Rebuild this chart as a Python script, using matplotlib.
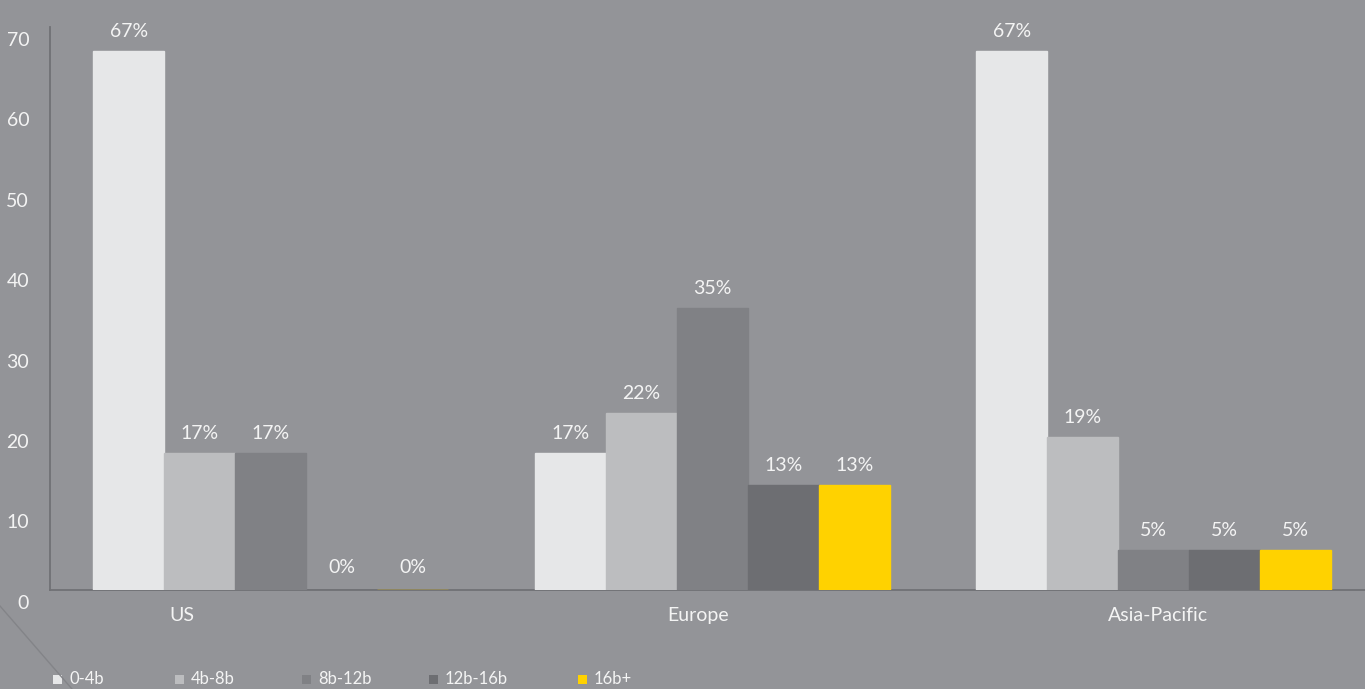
import matplotlib.pyplot as plt
import matplotlib.transforms as mtransforms
from matplotlib.patches import Rectangle
import numpy as np

plt.rcParams['font.family'] = ['Lato', 'DejaVu Sans']

regions = ['US', 'Europe', 'Asia-Pacific']
sizes = ['0-4b', '4b-8b', '8b-12b', '12b-16b', '16b+']
shares = {
    '0-4b': [67, 17, 67],
    '4b-8b': [17, 22, 19],
    '8b-12b': [17, 35, 5],
    '12b-16b': [0, 13, 5],
    '16b+': [0, 13, 5],
}
yticks = [0, 10, 20, 30, 40, 50, 60, 70]

colors = ['#e6e7e8', '#bcbdbf', '#808185', '#6d6e72', '#ffd200']
bg = '#939498'
txt = '#f4f4f4'
axis_col = '#707175'

fig = plt.figure(figsize=(13.65, 6.89), dpi=100, facecolor=bg)
ax = fig.add_axes([50 / 1365, 99 / 689, 1324.5 / 1365, 563.5 / 689])
ax.set_facecolor(bg)

w = 0.1608
x = np.arange(len(regions))
for j, (s, c) in enumerate(zip(sizes, colors)):
    vals = shares[s]
    pos = x + (j - 2) * w
    ax.bar(pos, vals, width=w, color=c, edgecolor=c, linewidth=1.0, zorder=3)
    for xp, v in zip(pos, vals):
        ax.annotate(f'{v}%', (xp, v), xytext=(0, 8 if v else 10),
                    textcoords='offset points', ha='center', va='bottom',
                    fontsize=14, color=txt)

ax.set_xlim(-0.5, 2.5)
ax.set_ylim(0, 70)
ax.set_yticks(yticks)
ax.set_yticklabels([str(t) for t in yticks], fontsize=14, color=txt)
ax.tick_params(axis='y', length=0, pad=15)
shift = mtransforms.ScaledTranslation(0, -0.12, fig.dpi_scale_trans)
for lab in ax.get_yticklabels():
    lab.set_transform(lab.get_transform() + shift)

# category labels sit off-centre under each group
ax.set_xticks([-0.201, 0.968, 2.01])
ax.set_xticklabels(regions, fontsize=14, color=txt)
ax.tick_params(axis='x', length=0, pad=12)

for side in ['top', 'right']:
    ax.spines[side].set_visible(False)
for side in ['left', 'bottom']:
    ax.spines[side].set_color(axis_col)
    ax.spines[side].set_linewidth(1.3)
    ax.spines[side].set_zorder(2)

# thin diagonal rule at lower left
fig.add_artist(plt.Line2D([0, 72 / 1365], [1 - 606 / 689, 0],
                          transform=fig.transFigure, color='#838488', lw=1))

# legend row along the bottom
leg_x = [53, 175, 302, 429, 578]
for lx, s, c in zip(leg_x, sizes, colors):
    fig.add_artist(Rectangle((lx / 1365, (689 - 684) / 689), 9 / 1365, 9 / 689,
                             transform=fig.transFigure, facecolor=c, edgecolor='none'))
    fig.text((lx + 16) / 1365, (689 - 679) / 689, s, fontsize=12, color=txt,
             ha='left', va='center')

fig.savefig('out.png', dpi=100, facecolor=bg)
